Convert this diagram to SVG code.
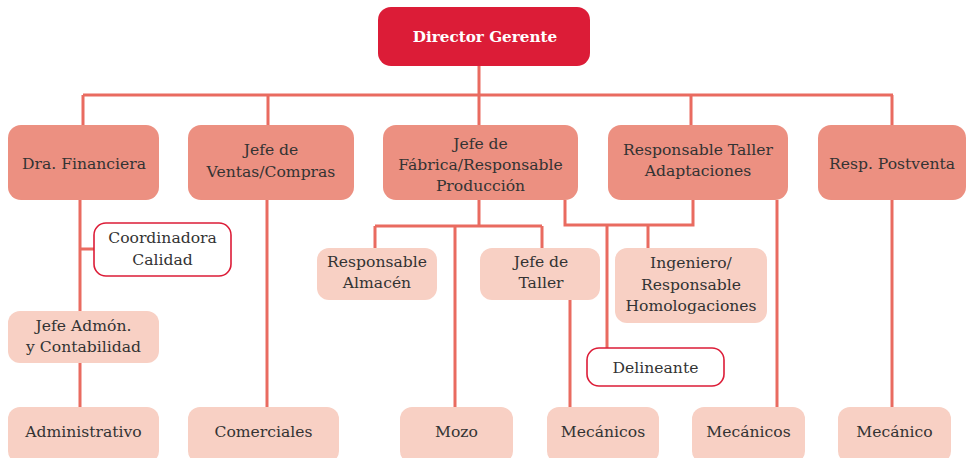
<svg xmlns="http://www.w3.org/2000/svg" width="966" height="458" viewBox="0 0 966 458">
<style>
.t{font-family:"DejaVu Serif","Liberation Serif",serif;font-size:15.6px;fill:#333;text-anchor:middle}
.top{fill:#DC1C37}
.l1{fill:#EC9081}
.l2{fill:#F8D0C4}
.w{fill:#fff;stroke:#DC1C37;stroke-width:1.6}
.c{fill:none;stroke:#E96B60;stroke-width:3}
</style>
<rect width="966" height="458" fill="#fff"/>
<g id="connectors" class="c">
<path d="M479 66V95M83 95H893M83 95V125M268 95V125M479 95V125M691 95V125M892 95V125"/>
<path d="M80 200V311M80 249H94M80 363V407"/>
<path d="M267 200V407"/>
<path d="M479 200V226M375 226H542M375 226V248M542 226V248M455 226V407M570 300V407"/>
<path d="M565 200V225H693V200M607 225V348M648 225V248"/>
<path d="M777 200V407"/>
<path d="M892 200V407"/>
</g>
<g id="director"><rect class="top" x="378" y="7" width="212" height="59" rx="13"/><text class="t" x="485" y="42" style="fill:#fff;font-weight:bold;font-size:15.2px">Director Gerente</text></g>
<g id="financiera"><rect class="l1" x="8" y="125" width="151" height="75" rx="13"/><text class="t" x="84" y="169">Dra. Financiera</text></g>
<g id="ventas"><rect class="l1" x="188" y="125" width="166" height="75" rx="13"/><text class="t" x="271" y="155">Jefe de</text><text class="t" x="271" y="177">Ventas/Compras</text></g>
<g id="fabrica"><rect class="l1" x="383" y="125" width="195" height="75" rx="13"/><text class="t" x="480.5" y="149">Jefe de</text><text class="t" x="480.5" y="170">Fábrica/Responsable</text><text class="t" x="480.5" y="191">Producción</text></g>
<g id="taller-adapt"><rect class="l1" x="608" y="125" width="180" height="75" rx="13"/><text class="t" x="698" y="155">Responsable Taller</text><text class="t" x="698" y="176">Adaptaciones</text></g>
<g id="postventa"><rect class="l1" x="818" y="125" width="148" height="75" rx="13"/><text class="t" x="892" y="169">Resp. Postventa</text></g>
<g id="coordinadora"><rect class="w" x="94" y="223" width="137" height="53" rx="12"/><text class="t" x="162.5" y="243">Coordinadora</text><text class="t" x="162.5" y="265">Calidad</text></g>
<g id="almacen"><rect class="l2" x="317" y="248" width="120" height="52" rx="12"/><text class="t" x="377" y="267">Responsable</text><text class="t" x="377" y="288">Almacén</text></g>
<g id="jefe-taller"><rect class="l2" x="480" y="248" width="120" height="52" rx="12"/><text class="t" x="541" y="267">Jefe de</text><text class="t" x="541" y="288">Taller</text></g>
<g id="ingeniero"><rect class="l2" x="615" y="248" width="152" height="75" rx="12"/><text class="t" x="691" y="268">Ingeniero/</text><text class="t" x="691" y="290">Responsable</text><text class="t" x="691" y="311">Homologaciones</text></g>
<g id="admon"><rect class="l2" x="8" y="311" width="151" height="52" rx="12"/><text class="t" x="83.5" y="331">Jefe Admón.</text><text class="t" x="83.5" y="352">y Contabilidad</text></g>
<g id="delineante"><rect class="w" x="587" y="348" width="137" height="38" rx="12"/><text class="t" x="655.5" y="373">Delineante</text></g>
<g id="administrativo"><rect class="l2" x="8" y="407" width="151" height="56" rx="12"/><text class="t" x="83.5" y="437">Administrativo</text></g>
<g id="comerciales"><rect class="l2" x="188" y="407" width="151" height="56" rx="12"/><text class="t" x="263.5" y="437">Comerciales</text></g>
<g id="mozo"><rect class="l2" x="400" y="407" width="113" height="56" rx="12"/><text class="t" x="456.5" y="437">Mozo</text></g>
<g id="mecanicos1"><rect class="l2" x="547" y="407" width="112" height="56" rx="12"/><text class="t" x="603" y="437">Mecánicos</text></g>
<g id="mecanicos2"><rect class="l2" x="692" y="407" width="113" height="56" rx="12"/><text class="t" x="748.5" y="437">Mecánicos</text></g>
<g id="mecanico"><rect class="l2" x="838" y="407" width="113" height="56" rx="12"/><text class="t" x="894.5" y="437">Mecánico</text></g>
</svg>
